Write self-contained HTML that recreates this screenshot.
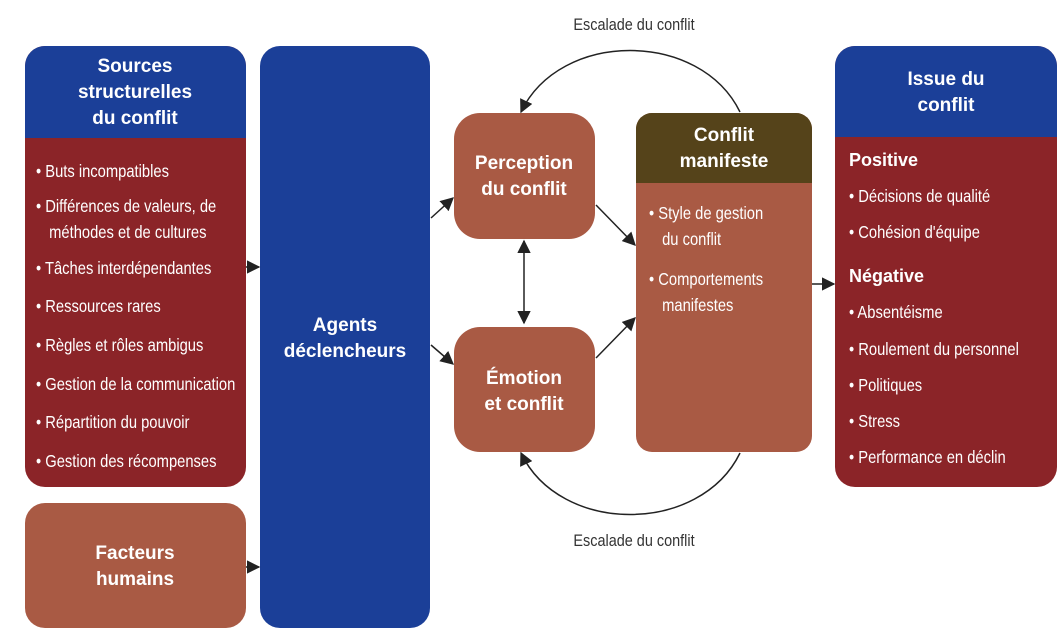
<!DOCTYPE html>
<html><head><meta charset="utf-8"><style>
html,body{margin:0;padding:0;background:#fff;}
svg{display:block;}
.h{font-family:"Liberation Sans",Arial,sans-serif;font-weight:bold;font-size:19px;fill:#fff;text-anchor:middle;}
.t{font-family:"Liberation Sans",sans-serif;font-size:18px;fill:#fff;}
.s{font-family:"Liberation Sans",Arial,sans-serif;font-weight:bold;font-size:18px;fill:#fff;}
.g{font-family:"Liberation Sans",sans-serif;font-size:17px;fill:#333;text-anchor:middle;}
</style></head><body>
<svg width="1059" height="633" viewBox="0 0 1059 633" xmlns="http://www.w3.org/2000/svg">
<defs>
<marker id="a" viewBox="0 0 10 10" refX="9" refY="5" markerWidth="9" markerHeight="9" orient="auto-start-reverse"><path d="M0,0L10,5L0,10z" fill="#222"/></marker>
<clipPath id="c1"><rect x="25" y="46" width="221" height="441" rx="20"/></clipPath>
<clipPath id="c2"><rect x="636" y="113" width="176" height="339" rx="16"/></clipPath>
<clipPath id="c3"><rect x="835" y="46" width="222" height="441" rx="20"/></clipPath>
</defs>
<!-- Sources -->
<g clip-path="url(#c1)"><rect x="25" y="46" width="221" height="441" fill="#8b2428"/><rect x="25" y="46" width="221" height="92" fill="#1b3f98"/></g>
<text class="h" x="135" y="72">Sources</text>
<text class="h" x="135" y="98">structurelles</text>
<text class="h" x="135" y="124">du conflit</text>
<g class="t" transform="translate(36,0) scale(0.82,1) translate(-36,0)">
<text x="36" y="177">• Buts incompatibles</text>
<text x="36" y="212">• Différences de valeurs, de</text>
<text x="52" y="238">méthodes et de cultures</text>
<text x="36" y="274">• Tâches interdépendantes</text>
<text x="36" y="312">• Ressources rares</text>
<text x="36" y="351">• Règles et rôles ambigus</text>
<text x="36" y="390">• Gestion de la communication</text>
<text x="36" y="428">• Répartition du pouvoir</text>
<text x="36" y="467">• Gestion des récompenses</text>
</g>
<!-- Facteurs -->
<rect x="25" y="503" width="221" height="125" rx="20" fill="#a95a44"/>
<text class="h" x="135" y="559">Facteurs</text>
<text class="h" x="135" y="585">humains</text>
<!-- Agents -->
<rect x="260" y="46" width="170" height="582" rx="20" fill="#1b3f98"/>
<text class="h" x="345" y="331">Agents</text>
<text class="h" x="345" y="357">déclencheurs</text>
<!-- Perception / Emotion -->
<rect x="454" y="113" width="141" height="126" rx="26" fill="#a95a44"/>
<text class="h" x="524" y="169">Perception</text>
<text class="h" x="524" y="195">du conflit</text>
<rect x="454" y="327" width="141" height="125" rx="26" fill="#a95a44"/>
<text class="h" x="524" y="384">Émotion</text>
<text class="h" x="524" y="410">et conflit</text>
<!-- Conflit manifeste -->
<g clip-path="url(#c2)"><rect x="636" y="113" width="176" height="339" fill="#a95a44"/><rect x="636" y="113" width="176" height="70" fill="#55431a"/></g>
<text class="h" x="724" y="141">Conflit</text>
<text class="h" x="724" y="167">manifeste</text>
<g class="t" transform="translate(649,0) scale(0.82,1) translate(-649,0)">
<text x="649" y="219">• Style de gestion</text>
<text x="665" y="245">du conflit</text>
<text x="649" y="285">• Comportements</text>
<text x="665" y="311">manifestes</text>
</g>
<!-- Issue -->
<g clip-path="url(#c3)"><rect x="835" y="46" width="222" height="441" fill="#8b2428"/><rect x="835" y="46" width="222" height="91" fill="#1b3f98"/></g>
<text class="h" x="946" y="85">Issue du</text>
<text class="h" x="946" y="111">conflit</text>
<text class="s" x="849" y="166">Positive</text>
<g class="t" transform="translate(849,0) scale(0.82,1) translate(-849,0)">
<text x="849" y="202">• Décisions de qualité</text>
<text x="849" y="238">• Cohésion d'équipe</text>
<text x="849" y="318">• Absentéisme</text>
<text x="849" y="355">• Roulement du personnel</text>
<text x="849" y="391">• Politiques</text>
<text x="849" y="427">• Stress</text>
<text x="849" y="463">• Performance en déclin</text>
</g>
<text class="s" x="849" y="282">Négative</text>
<!-- Connectors -->
<g stroke="#222" stroke-width="1.5" fill="none">
<line x1="246" y1="267" x2="259" y2="267" marker-end="url(#a)"/>
<line x1="246" y1="567" x2="259" y2="567" marker-end="url(#a)"/>
<line x1="431" y1="218" x2="453" y2="198" marker-end="url(#a)"/>
<line x1="431" y1="345" x2="453" y2="364" marker-end="url(#a)"/>
<line x1="524" y1="241" x2="524" y2="323" marker-start="url(#a)" marker-end="url(#a)"/>
<line x1="596" y1="205" x2="635" y2="245" marker-end="url(#a)"/>
<line x1="596" y1="358" x2="635" y2="318" marker-end="url(#a)"/>
<line x1="812" y1="284" x2="834" y2="284" marker-end="url(#a)"/>
<path d="M740,112 C700,30 560,30 521,112" marker-end="url(#a)"/>
<path d="M740,453 C700,535 560,535 521,453" marker-end="url(#a)"/>
</g>
<g transform="translate(634,0) scale(0.85,1) translate(-634,0)">
<text class="g" x="634" y="30">Escalade du conflit</text>
<text class="g" x="634" y="546">Escalade du conflit</text>
</g>
</svg>
</body></html>
